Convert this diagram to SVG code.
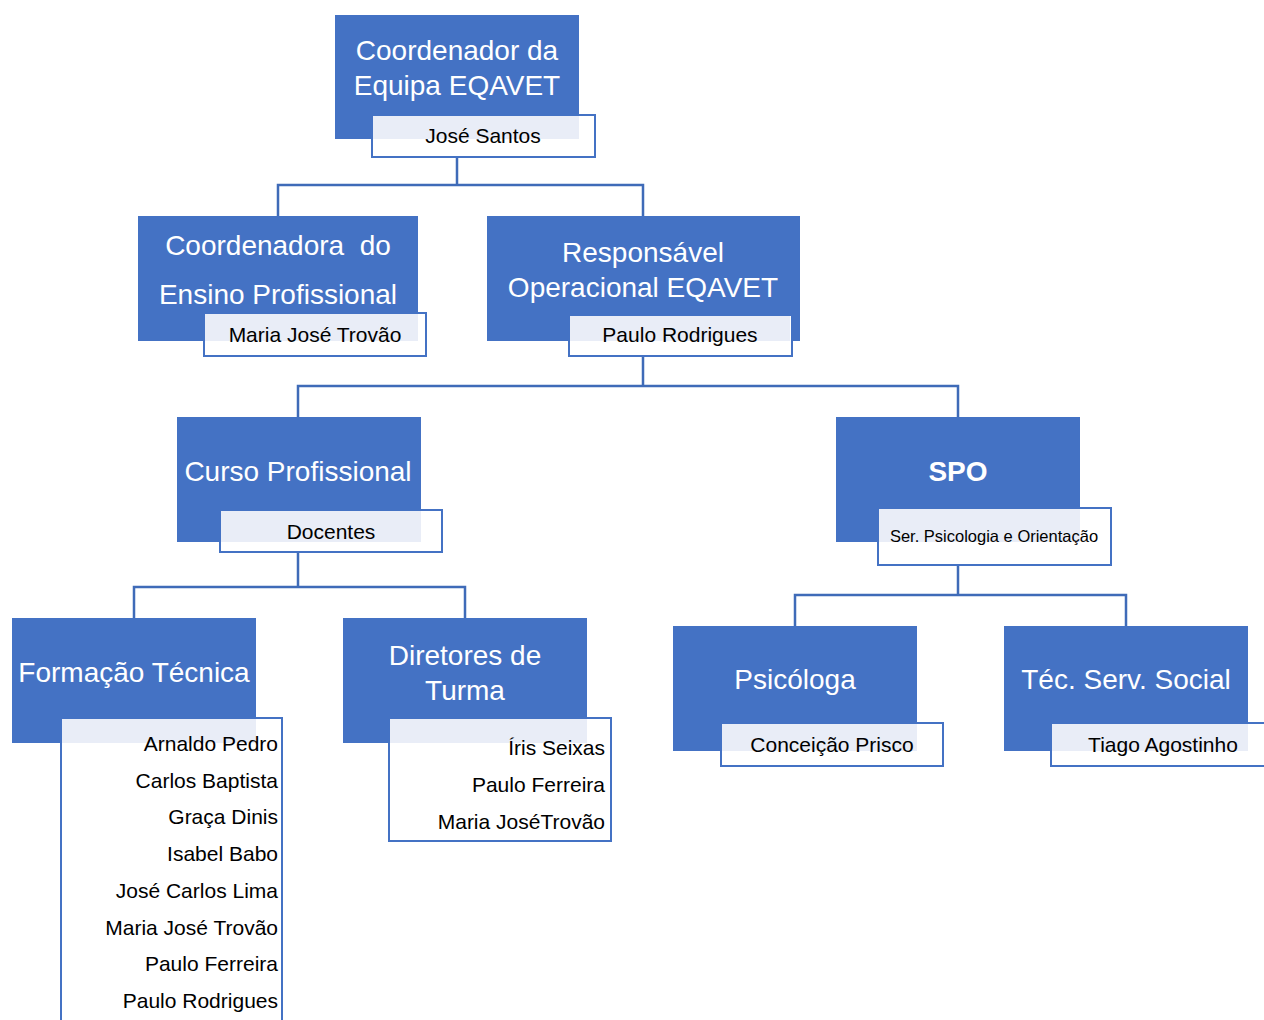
<svg xmlns="http://www.w3.org/2000/svg" width="1264" height="1020" viewBox="0 0 1264 1020">
<style>
.box{fill:#4472C4}
.lab{fill:#FFFFFF;stroke:#4472C4;stroke-width:2}
.ov{fill:#E9EDF7}
.t{font-family:"Liberation Sans",Arial,sans-serif;font-size:28px;fill:#FFFFFF;text-anchor:middle}
.n{font-family:"Liberation Sans",Arial,sans-serif;font-size:21px;fill:#000000;text-anchor:middle}
.s{font-family:"Liberation Sans",Arial,sans-serif;font-size:16.5px;fill:#000000;text-anchor:middle}
.r{font-family:"Liberation Sans",Arial,sans-serif;font-size:21px;fill:#000000;text-anchor:end}
.c{fill:none;stroke:#3F6BB8;stroke-width:2.5}
</style>
<rect width="1264" height="1020" fill="#FFFFFF"/>
<g id="connectors">
<path class="c" d="M457 139V185M278 216V185H643V216"/>
<path class="c" d="M643 341V386M298 417V386H958V417"/>
<path class="c" d="M298 542V587M134 618V587H465V618"/>
<path class="c" d="M958 542V595M795 626V595H1126V626"/>
</g>
<g id="n1">
<rect class="box" x="335" y="15" width="244" height="124"/>
<rect class="lab" x="372" y="115" width="223" height="42"/>
<rect class="ov" x="373" y="116" width="206" height="23"/>
<text class="t" x="457" y="60">Coordenador da</text>
<text class="t" x="457" y="95">Equipa EQAVET</text>
<text class="n" x="483" y="143">José Santos</text>
</g>
<g id="n2">
<rect class="box" x="138" y="216" width="280" height="125"/>
<rect class="lab" x="204" y="313" width="222" height="43"/>
<rect class="ov" x="205" y="314" width="213" height="27"/>
<text class="t" x="278" y="255" xml:space="preserve">Coordenadora  do</text>
<text class="t" x="278" y="304">Ensino Profissional</text>
<text class="n" x="315" y="342">Maria José Trovão</text>
</g>
<g id="n3">
<rect class="box" x="487" y="216" width="313" height="125"/>
<rect class="lab" x="569" y="315" width="223" height="41"/>
<rect class="ov" x="570" y="316" width="220" height="25"/>
<text class="t" x="643" y="262">Responsável</text>
<text class="t" x="643" y="297">Operacional EQAVET</text>
<text class="n" x="680" y="342">Paulo Rodrigues</text>
</g>
<g id="n4">
<rect class="box" x="177" y="417" width="244" height="125"/>
<rect class="lab" x="220" y="510" width="222" height="42"/>
<rect class="ov" x="221" y="511" width="200" height="31"/>
<text class="t" x="298" y="481">Curso Profissional</text>
<text class="n" x="331" y="539">Docentes</text>
</g>
<g id="n5">
<rect class="box" x="836" y="417" width="244" height="125"/>
<rect class="lab" x="878" y="508" width="233" height="57"/>
<rect class="ov" x="879" y="509" width="201" height="33"/>
<text class="t" x="958" y="481" font-weight="bold">SPO</text>
<text class="s" x="994" y="542">Ser. Psicologia e Orientação</text>
</g>
<g id="n6">
<rect class="box" x="12" y="618" width="244" height="125"/>
<rect class="lab" x="61" y="718" width="221" height="310"/>
<rect class="ov" x="62" y="719" width="194" height="24"/>
<text class="t" x="134" y="682">Formação Técnica</text>
<text class="r" x="278" y="751">Arnaldo Pedro</text>
<text class="r" x="278" y="788">Carlos Baptista</text>
<text class="r" x="278" y="824">Graça Dinis</text>
<text class="r" x="278" y="861">Isabel Babo</text>
<text class="r" x="278" y="898">José Carlos Lima</text>
<text class="r" x="278" y="935">Maria José Trovão</text>
<text class="r" x="278" y="971">Paulo Ferreira</text>
<text class="r" x="278" y="1008">Paulo Rodrigues</text>
</g>
<g id="n7">
<rect class="box" x="343" y="618" width="244" height="125"/>
<rect class="lab" x="389" y="718" width="222" height="123"/>
<rect class="ov" x="390" y="719" width="197" height="24"/>
<text class="t" x="465" y="665">Diretores de</text>
<text class="t" x="465" y="700">Turma</text>
<text class="r" x="605" y="755">Íris Seixas</text>
<text class="r" x="605" y="792">Paulo Ferreira</text>
<text class="r" x="605" y="829">Maria JoséTrovão</text>
</g>
<g id="n8">
<rect class="box" x="673" y="626" width="244" height="125"/>
<rect class="lab" x="721" y="723" width="222" height="43"/>
<rect class="ov" x="722" y="724" width="195" height="27"/>
<text class="t" x="795" y="689">Psicóloga</text>
<text class="n" x="832" y="752">Conceição Prisco</text>
</g>
<g id="n9">
<rect class="box" x="1004" y="626" width="244" height="125"/>
<rect class="lab" x="1051" y="723" width="222" height="43"/>
<rect class="ov" x="1052" y="724" width="196" height="27"/>
<text class="t" x="1126" y="689">Téc. Serv. Social</text>
<text class="n" x="1163" y="752">Tiago Agostinho</text>
</g>
</svg>
